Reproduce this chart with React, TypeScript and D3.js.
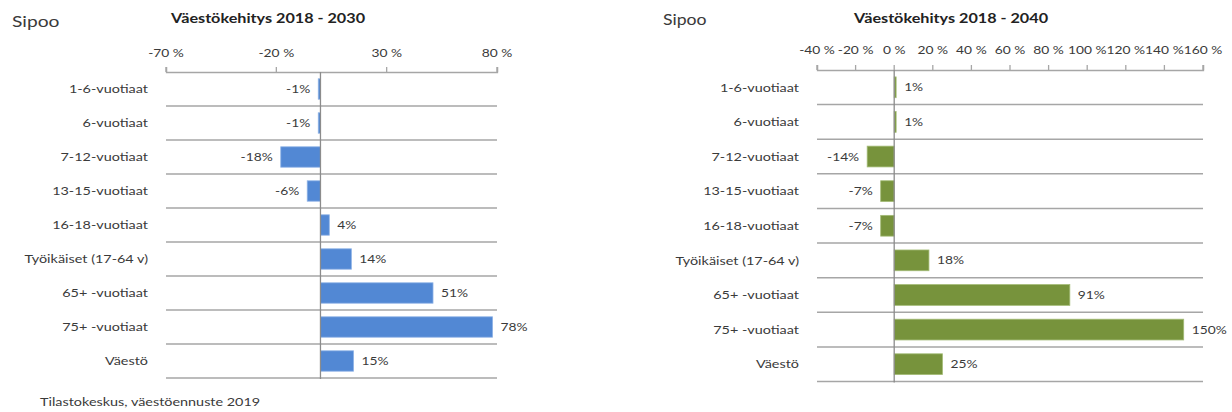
import React, { useEffect, useRef } from 'react';
import * as d3 from 'd3';

// age groups, top to bottom
const categories = [
  '1-6-vuotiaat',
  '6-vuotiaat',
  '7-12-vuotiaat',
  '13-15-vuotiaat',
  '16-18-vuotiaat',
  'Työikäiset (17-64 v)',
  '65+ -vuotiaat',
  '75+ -vuotiaat',
  'Väestö',
];

// change in percent
const change2030 = [-1, -1, -18, -6, 4, 14, 51, 78, 15];
const change2040 = [1, 1, -14, -7, -7, 18, 91, 150, 25];

const ticks2030 = [-70, -20, 30, 80];
const ticks2040 = [-40, -20, 0, 20, 40, 60, 80, 100, 120, 140, 160];

const FONT = 'Lato, "Open Sans", sans-serif';
const GRID = '#a6a6a6';
const INK = '#3a3a3a';
// the source image is a bit wide, so text gets stretched sideways
const SX = 1.2;

type TProps = {
  x: number;
  y: number;
  size: number;
  anchor?: 'start' | 'middle' | 'end';
  bold?: boolean;
  mid?: boolean;
  fill?: string;
  children: React.ReactNode;
};

const T = ({ x, y, size, anchor = 'start', bold, mid, fill = INK, children }: TProps) => (
  <text
    transform={`translate(${x},${y}) scale(${SX},1)`}
    fontFamily={FONT}
    fontSize={size}
    fontWeight={bold ? 'bold' : 'normal'}
    textAnchor={anchor}
    dy={mid ? '0.35em' : undefined}
    fill={fill}
  >
    {children}
  </text>
);

type PanelProps = {
  title: string;
  titleX: number;
  titleY: number;
  place: string;
  placeX: number;
  placeY: number;
  placeSize: number;
  values: number[];
  ticks: number[];
  tickSize: number;
  x0: number;
  x1: number;
  y0: number;
  y1: number;
  tickLabelY: number;
  labelX: number;
  color: string;
  edge: string;
};

const Axis = ({ x, y0 }: { x: d3.ScaleLinear<number, number>; y0: number }) => {
  const ref = useRef<SVGGElement>(null);
  useEffect(() => {
    if (ref.current) {
      const g = d3.select(ref.current);
      g.call(d3.axisTop(x).tickValues(x.domain()).tickSize(5).tickFormat(() => '') as any);
      g.selectAll('path, line').attr('stroke', GRID).attr('stroke-width', 1.3);
    }
  }, [x]);
  return <g ref={ref} transform={`translate(0,${y0})`} />;
};

const Panel = (p: PanelProps) => {
  const x = d3.scaleLinear()
    .domain([p.ticks[0], p.ticks[p.ticks.length - 1]])
    .range([p.x0, p.x1]);
  const y = d3.scaleBand()
    .domain(categories)
    .range([p.y0, p.y1])
    .paddingInner(0.4)
    .paddingOuter(0.2);
  const step = y.step();
  const bandTop = (c: string) => (y(c) as number) - y.paddingOuter() * step;

  return (
    <g>
      <T x={p.placeX} y={p.placeY} size={p.placeSize}>{p.place}</T>
      <T x={p.titleX} y={p.titleY} size={13.5} bold anchor="middle" fill="#222">{p.title}</T>
      {p.ticks.map((t) => (
        <React.Fragment key={t}>
          <line x1={x(t)} x2={x(t)} y1={p.y0 - 5} y2={p.y0} stroke={GRID} strokeWidth={1.3} />
          <T x={x(t)} y={p.tickLabelY} size={p.tickSize} anchor="middle">{`${t} %`}</T>
        </React.Fragment>
      ))}
      <Axis x={x} y0={p.y0} />
      {categories.map((c) => (
        <line
          key={`grid-${c}`}
          x1={p.x0}
          x2={p.x1}
          y1={bandTop(c) + step}
          y2={bandTop(c) + step}
          stroke={GRID}
          strokeWidth={1.5}
        />
      ))}
      {categories.map((c, i) => {
        const v = p.values[i];
        const xa = x(Math.min(0, v));
        const xb = x(Math.max(0, v));
        const cy = (y(c) as number) + y.bandwidth() / 2;
        return (
          <React.Fragment key={c}>
            <T x={p.labelX} y={cy} size={12} anchor="end" mid>{c}</T>
            <rect
              x={xa}
              y={y(c)}
              width={Math.max(1.2, xb - xa)}
              height={y.bandwidth()}
              fill={p.color}
              stroke={p.edge}
              strokeWidth={0.8}
            />
            <T x={v < 0 ? xa - 8 : xb + 8} y={cy} size={11.5} anchor={v < 0 ? 'end' : 'start'} mid>
              {`${v}%`}
            </T>
          </React.Fragment>
        );
      })}
      <line x1={x(0)} x2={x(0)} y1={p.y0} y2={p.y1 + 1} stroke="#8c8c8c" strokeWidth={1.3} />
    </g>
  );
};

export default function App() {
  return (
    <svg
      width={1232}
      height={412}
      style={{ position: 'absolute', left: 0, top: 0, display: 'block' }}
    >
      <rect width={1232} height={412} fill="#fff" />
      <Panel
        title="Väestökehitys 2018 - 2030"
        titleX={268}
        titleY={23}
        place="Sipoo"
        placeX={12}
        placeY={27}
        placeSize={16}
        values={change2030}
        ticks={ticks2030}
        tickSize={11.5}
        x0={166}
        x1={497}
        y0={72}
        y1={378}
        tickLabelY={57}
        labelX={148}
        color="#5288d4"
        edge="#8fb3e6"
      />
      <Panel
        title="Väestökehitys 2018 - 2040"
        titleX={951}
        titleY={23}
        place="Sipoo"
        placeX={663}
        placeY={25}
        placeSize={14.7}
        values={change2040}
        ticks={ticks2040}
        tickSize={11.5}
        x0={817}
        x1={1203}
        y0={70}
        y1={381.5}
        tickLabelY={54}
        labelX={799}
        color="#77933c"
        edge="#a3bb76"
      />
      <T x={40} y={406} size={12}>Tilastokeskus, väestöennuste 2019</T>
    </svg>
  );
}
